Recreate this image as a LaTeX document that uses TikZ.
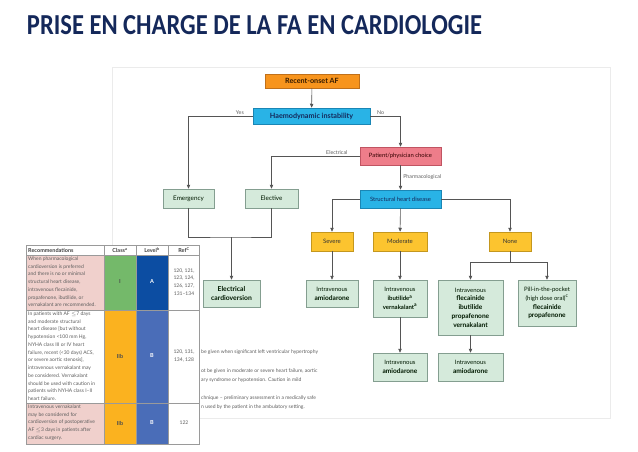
\documentclass[tikz,border=0pt]{standalone}
\usepackage{fontspec}
\setmainfont{Lato}
\newfontfamily\titlefont{Carlito}
\usetikzlibrary{positioning,arrows.meta}
\definecolor{titleblue}{HTML}{14285A}
\definecolor{onsetorange}{HTML}{F7941D}
\definecolor{onsetedge}{HTML}{C0701A}
\definecolor{haemocyan}{HTML}{29B3E6}
\definecolor{haemoedge}{HTML}{1A86B5}
\definecolor{choicepink}{HTML}{EE7D8A}
\definecolor{choiceedge}{HTML}{C05462}
\definecolor{treatgreen}{HTML}{D5EADB}
\definecolor{treatedge}{HTML}{849E90}
\definecolor{gradeyellow}{HTML}{FCC42F}
\definecolor{gradeedge}{HTML}{C4971E}
\definecolor{linegrey}{HTML}{555555}
\definecolor{textgrey}{HTML}{5E5E5E}
\definecolor{panelgrey}{HTML}{EBEBEB}
\definecolor{recpink}{HTML}{F0D0CC}
\definecolor{classgreen}{HTML}{74B96A}
\definecolor{levelnavy}{HTML}{0C4DA2}
\definecolor{classorange}{HTML}{FBB21F}
\definecolor{levelblue}{HTML}{4A6DB8}
\definecolor{gridgrey}{HTML}{9A9A9A}
\begin{document}
\begin{tikzpicture}[x=1pt,y=-1pt,
  box/.style={draw, line width=0.5pt, inner sep=0pt, align=center},
  treat/.style={box, fill=treatgreen, draw=treatedge, text=black!75!green!40!black, font=\fontsize{6}{8.8}\selectfont},
  grade/.style={box, fill=gradeyellow, draw=gradeedge, text=black!80, font=\fontsize{6}{7}\selectfont, minimum height=19},
  flow/.style={draw=linegrey, line width=0.6pt, -{Triangle[length=4pt,width=3.4pt]}},
  link/.style={draw=linegrey, line width=0.6pt},
  lbl/.style={font=\fontsize{5.3}{6}\selectfont, text=textgrey, inner sep=1.5pt},
  tabtext/.style={font=\fontsize{5}{7.75}\selectfont, text=textgrey, align=left, anchor=north west, inner sep=0pt},
  tabmark/.style={font=\bfseries\fontsize{5.5}{6}\selectfont, inner sep=0pt},
  foot/.style={font=\fontsize{5}{6}\selectfont, text=textgrey, anchor=west, inner sep=0pt}]
\useasboundingbox (0,0) rectangle (638,452);

\node[font=\titlefont\bfseries\fontsize{24}{28}\selectfont, text=titleblue] (title) at (254.5,25.5)
  {\resizebox{455pt}{19pt}{PRISE EN CHARGE DE LA FA EN CARDIOLOGIE}};

% panel of the flowchart
\draw[panelgrey, fill=white, line width=0.6pt] (112,67) rectangle (610,418);

% flowchart
\node[box, fill=onsetorange, draw=onsetedge, text=black!80!orange, font=\bfseries\fontsize{7.2}{8}\selectfont, minimum width=94, minimum height=14] (onset) at (312,81) {Recent-onset AF};
\node[box, fill=haemocyan, draw=haemoedge, text=titleblue, font=\bfseries\fontsize{7.2}{8}\selectfont, minimum width=117, minimum height=16] (haemo) at (311.5,116) {Haemodynamic instability};
\node[box, fill=choicepink, draw=choiceedge, text=black!80!red, font=\fontsize{5.9}{7}\selectfont, minimum width=81, minimum height=18] (choice) at (400.5,156) {Patient/physician choice};
\node[box, fill=haemocyan, draw=haemoedge, text=titleblue, font=\fontsize{5.9}{7}\selectfont, minimum width=81, minimum height=18] (struct) at (400.5,199) {Structural heart disease};

\node[treat, font=\fontsize{6.3}{8}\selectfont, minimum width=51, minimum height=19] (emerg) at (188.5,198.5) {Emergency};
\node[treat, font=\fontsize{6.3}{8}\selectfont, minimum width=53, minimum height=19] (elective) at (271.5,198.5) {Elective};

\node[grade, minimum width=42] (severe) at (332,241.5) {Severe};
\node[grade, minimum width=54] (moderate) at (400,241.5) {Moderate};
\node[grade, minimum width=42] (none) at (510,241.5) {None};

\node[treat, font=\bfseries\fontsize{6.8}{8.6}\selectfont, minimum width=57, minimum height=27] (cardiov) at (231.5,293.5) {Electrical\\cardioversion};
\node[treat, minimum width=52, minimum height=27] (amiosev) at (332,293.5) {Intravenous\\\textbf{\fontsize{6.6}{8.8}\selectfont amiodarone}};
\node[treat, minimum width=54, minimum height=37] (ivmod) at (400,298.5) {Intravenous\\\textbf{ibutilide\textsuperscript{a}}\\\textbf{vernakalant\textsuperscript{a}}};
\node[treat, minimum width=54, minimum height=28] (amiomod) at (400,367) {Intravenous\\\textbf{\fontsize{6.6}{8.8}\selectfont amiodarone}};
\node[treat, minimum width=65, minimum height=55] (ivflec) at (470.5,307.5) {Intravenous\\\textbf{\fontsize{6.6}{9}\selectfont flecainide}\\\textbf{\fontsize{6.6}{9}\selectfont ibutilide}\\\textbf{\fontsize{6.6}{9}\selectfont propafenone}\\\textbf{\fontsize{6.6}{9}\selectfont vernakalant}};
\node[treat, minimum width=65, minimum height=28] (amioflec) at (470.5,367) {Intravenous\\\textbf{\fontsize{6.6}{8.8}\selectfont amiodarone}};
\node[treat, minimum width=58, minimum height=46] (pill) at (547,303) {Pill-in-the-pocket\\(high dose oral)\textsuperscript{c}\\\textbf{\fontsize{6.6}{9}\selectfont flecainide}\\\textbf{\fontsize{6.6}{9}\selectfont propafenone}};

\draw[flow] (onset) -- (haemo);
\draw[flow] (haemo.west) -| node[lbl, pos=0.1, above] (yes) {Yes} (emerg.north);
\draw[flow] (haemo.east) -| node[lbl, pos=0.17, above] (no) {No} (choice.north);
\draw[flow] (choice.west) -| node[lbl, pos=0.13, above] (electrical) {Electrical} (elective.north);
\draw[flow] (choice) -- node[lbl, right=1pt] (pharma) {Pharmacological} (struct);
\draw[flow] (struct.west) -| (severe.north);
\draw[flow] (struct) -- (moderate);
\draw[flow] (struct.east) -| (none.north);

\coordinate (elecjoin) at (231.5,237);
\draw[link] (emerg.south) |- (elecjoin) -| (elective.south);
\draw[flow] (elecjoin) -- (cardiov.north);
\draw[flow] (severe) -- (amiosev);
\draw[flow] (moderate) -- (ivmod);
\draw[flow] (ivmod) -- (amiomod);
\coordinate (nonejoin) at (510,262);
\draw[link] (none) -- (nonejoin);
\draw[flow] (nonejoin) -| (ivflec.north);
\draw[flow] (nonejoin) -| (pill.north);
\draw[flow] (ivflec) -- (amioflec);

% footnotes cut by the table
\node[foot] (fna) at (201,352) {be given when significant left ventricular hypertrophy};
\node[foot] (fnb) at (201,371) {ot be given in moderate or severe heart failure, aortic};
\node[foot] (fnc) at (201,380) {ary syndrome or hypotension. Caution in mild};
\node[foot] (fnd) at (201,398) {chnique -- preliminary assessment in a medically safe};
\node[foot] (fne) at (201,407) {n used by the patient in the ambulatory setting.};

% table of recommendations
\fill[white] (26,245) rectangle (199,444);
\fill[recpink] (26,255) rectangle (104,310);
\fill[classgreen] (104,255) rectangle (136,310);
\fill[levelnavy] (136,255) rectangle (168,310);
\fill[classorange] (104,310) rectangle (136,444);
\fill[levelblue] (136,310) rectangle (168,444);
\fill[recpink] (26,403) rectangle (104,444);
\draw[gridgrey, line width=0.4pt] (26,245) rectangle (199,444);
\foreach \y in {255,310,403} \draw[gridgrey, line width=0.4pt] (26,\y) -- (199,\y);
\foreach \x in {104,136,168} \draw[gridgrey, line width=0.4pt] (\x,245) -- (\x,444);

\node[tabmark, text=black!75, anchor=west] (rechead) at (28,250) {Recommendations};
\node[tabmark, text=black!75] (classhead) at (120,250) {Class\textsuperscript{a}};
\node[tabmark, text=black!75] (levelhead) at (152,250) {Level\textsuperscript{b}};
\node[tabmark, text=black!75] (refhead) at (184,250) {Ref\textsuperscript{C}};

\node[tabtext] (recone) at (28,256.5) {When pharmacological\\cardioversion is preferred\\and there is no or minimal\\structural heart disease,\\intravenous flecainide,\\propafenone, ibutilide, or\\vernakalant are recommended.};
\node[tabmark, text=black!70] (classone) at (120,282) {I};
\node[tabmark, text=white] (levelone) at (152,282) {A};
\node[tabtext, anchor=center, align=center] (refone) at (184,282) {120, 121,\\123, 124,\\126, 127,\\131--134};

\node[tabtext] (rectwo) at (28,311.5) {In patients with AF $\leq$7 days\\and moderate structural\\heart disease [but without\\hypotension <100 mm Hg,\\NYHA class III or IV heart\\failure, recent (<30 days) ACS,\\or severe aortic stenosis],\\intravenous vernakalant may\\be considered. Vernakalant\\should be used with caution in\\patients with NYHA class I--II\\heart failure.};
\node[tabmark, text=black!70] (classtwo) at (120,356) {IIb};
\node[tabmark, text=white] (leveltwo) at (152,356) {B};
\node[tabtext, anchor=center, align=center] (reftwo) at (184,356) {120, 131,\\134, 128};

\node[tabtext] (recthree) at (28,404.5) {Intravenous vernakalant\\may be considered for\\cardioversion of postoperative\\AF $\leq$3 days in patients after\\cardiac surgery.};
\node[tabmark, text=black!70] (classthree) at (120,423) {IIb};
\node[tabmark, text=white] (levelthree) at (152,423) {B};
\node[tabtext, anchor=center, align=center] (refthree) at (184,423) {122};
\end{tikzpicture}
\end{document}
